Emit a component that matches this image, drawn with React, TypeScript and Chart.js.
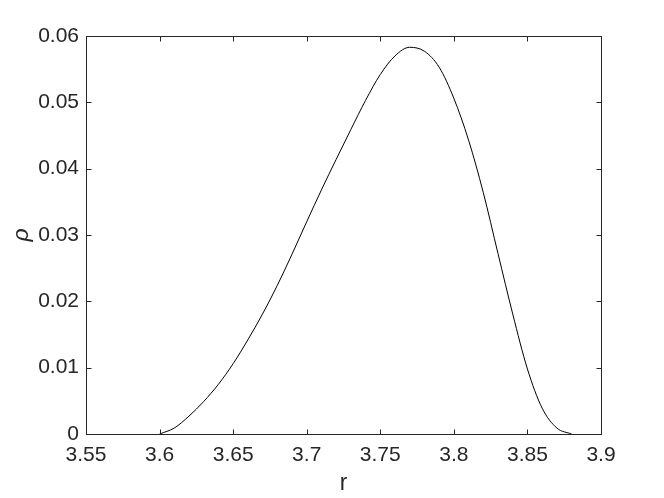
import React, { useEffect, useRef } from "react";
import { Chart, registerables } from "chart.js";

Chart.register(...registerables);

const rValues = [
  3.6, 3.61, 3.62, 3.63, 3.64, 3.65, 3.66, 3.67, 3.68, 3.69, 3.7, 3.71, 3.72,
  3.73, 3.74, 3.75, 3.76, 3.77, 3.78, 3.79, 3.8, 3.81, 3.82, 3.83, 3.84, 3.85,
  3.86, 3.87, 3.88,
];
const rhoValues = [
  0, 0.0009, 0.0027, 0.0049, 0.0075, 0.0106, 0.0142, 0.0181, 0.0224, 0.0271,
  0.032, 0.0368, 0.0414, 0.0459, 0.0503, 0.0542, 0.057, 0.0583, 0.0577,
  0.0553, 0.0506, 0.0443, 0.0364, 0.0272, 0.0181, 0.0098, 0.0039, 0.0009, 0,
];
const xTicks = [3.55, 3.6, 3.65, 3.7, 3.75, 3.8, 3.85, 3.9];
const yTicks = [0, 0.01, 0.02, 0.03, 0.04, 0.05, 0.06];

const AXIS_COLOR = "#262626";
const FONT = "'Liberation Sans', Arial, Helvetica, sans-serif";

const fmt = (v: number) => String(Number(v.toFixed(3)));

const boxPlugin = {
  id: "matlabBox",
  afterDraw(chart: any) {
    const { ctx, chartArea } = chart;
    const { left, right, top, bottom } = chartArea;
    const xs = chart.scales.x;
    const ys = chart.scales.y;
    ctx.save();
    ctx.strokeStyle = AXIS_COLOR;
    ctx.lineWidth = 1;
    ctx.beginPath();
    ctx.rect(left + 0.5, top + 0.5, right - left, bottom - top);
    ctx.stroke();
    ctx.beginPath();
    const len = 5;
    xTicks.forEach((v) => {
      const px = Math.round(xs.getPixelForValue(v)) + 0.5;
      ctx.moveTo(px, bottom + 0.5);
      ctx.lineTo(px, bottom + 0.5 - len);
      ctx.moveTo(px, top + 0.5);
      ctx.lineTo(px, top + 0.5 + len);
    });
    yTicks.forEach((v) => {
      const py = Math.round(ys.getPixelForValue(v)) + 0.5;
      ctx.moveTo(left + 0.5, py);
      ctx.lineTo(left + 0.5 + len, py);
      ctx.moveTo(right + 0.5, py);
      ctx.lineTo(right + 0.5 - len, py);
    });
    ctx.stroke();
    ctx.restore();
  },
};

export default function App() {
  const ref = useRef<HTMLCanvasElement | null>(null);
  useEffect(() => {
    if (!ref.current) return;
    const data = rValues.map((r, i) => ({ x: r, y: rhoValues[i] }));
    const chart = new Chart(ref.current, {
      type: "scatter",
      data: {
        datasets: [
          {
            data,
            showLine: true,
            borderColor: "#000000",
            borderWidth: 1,
            pointRadius: 0,
            cubicInterpolationMode: "monotone",
            fill: false,
          },
        ],
      },
      options: {
        animation: false,
        responsive: false,
        devicePixelRatio: 1,
        layout: { padding: { left: 0, top: 36, right: 63, bottom: 0 } },
        plugins: { legend: { display: false }, tooltip: { enabled: false } },
        scales: {
          x: {
            type: "linear",
            min: 3.55,
            max: 3.9,
            grid: { display: false, drawTicks: false },
            border: { display: false },
            afterBuildTicks: (s: any) => {
              s.ticks = xTicks.map((v) => ({ value: v }));
            },
            afterFit: (s: any) => {
              s.height = 64;
            },
            ticks: {
              color: AXIS_COLOR,
              font: { family: FONT, size: 21 },
              padding: 9,
              maxRotation: 0,
              autoSkip: false,
              callback: (v: any) => fmt(Number(v)),
            },
            title: {
              display: true,
              text: "r",
              color: AXIS_COLOR,
              font: { family: FONT, size: 23 },
              padding: { top: 0, bottom: 1 },
            },
          },
          y: {
            type: "linear",
            min: 0,
            max: 0.06,
            grid: { display: false, drawTicks: false },
            border: { display: false },
            afterBuildTicks: (s: any) => {
              s.ticks = yTicks.map((v) => ({ value: v }));
            },
            afterFit: (s: any) => {
              s.width = 86;
            },
            ticks: {
              color: AXIS_COLOR,
              font: { family: FONT, size: 21 },
              padding: 7,
              autoSkip: false,
              callback: (v: any) => fmt(Number(v)),
            },
            title: {
              display: true,
              text: "ρ",
              color: AXIS_COLOR,
              font: { family: FONT, size: 23, style: "italic" },
              padding: { top: 8, bottom: 0 },
            },
          },
        },
      },
      plugins: [boxPlugin],
    } as any);
    return () => chart.destroy();
  }, []);
  return (
    <div style={{ position: "fixed", left: 0, top: 0, width: 664, height: 498, background: "#fff" }}>
      <canvas ref={ref} width={664} height={498} style={{ width: 664, height: 498 }} />
    </div>
  );
}
